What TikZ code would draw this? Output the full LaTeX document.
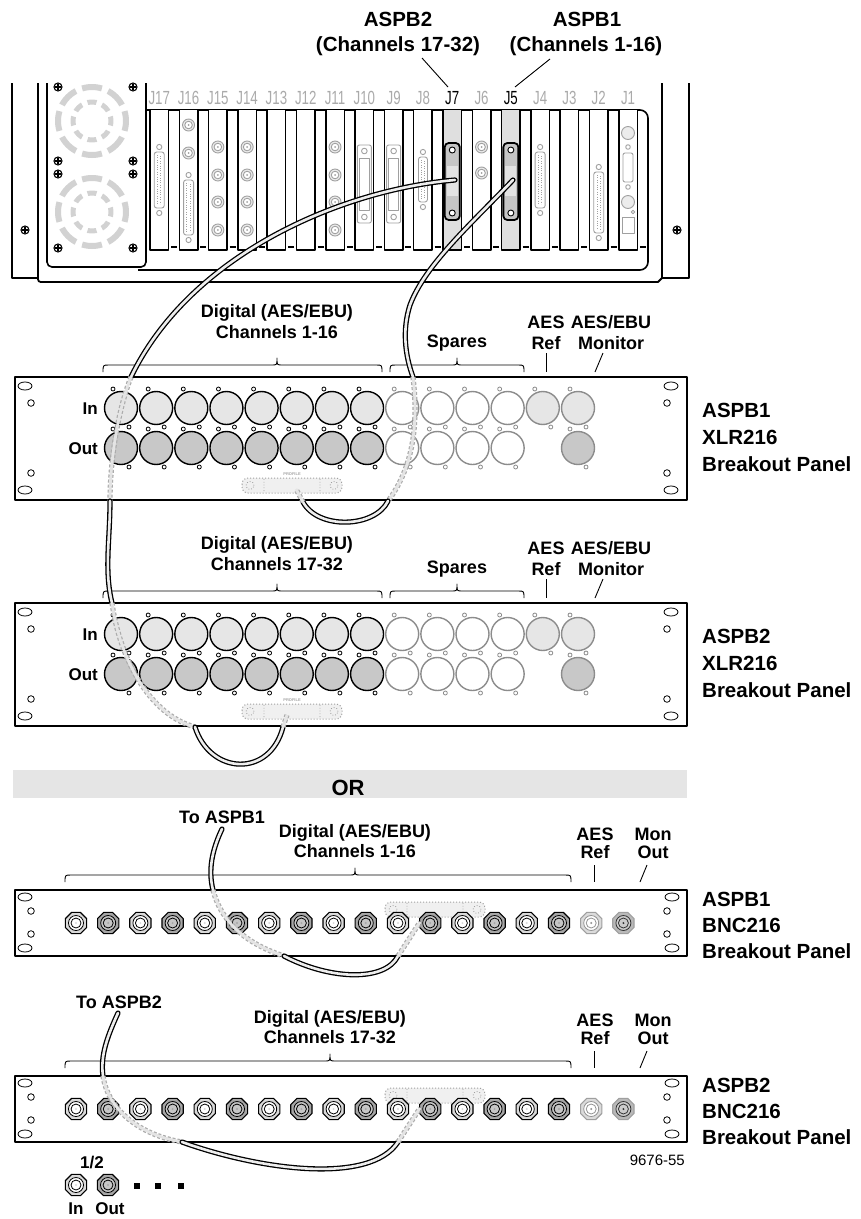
\documentclass[tikz,border=0pt]{standalone}
\usepackage{fontspec}
\setmainfont{Liberation Sans}
\usepackage{graphicx}
\usetikzlibrary{shapes.geometric}
\definecolor{lg}{HTML}{E6E6E6}
\definecolor{mg}{HTML}{C8C8C8}
\definecolor{fang}{HTML}{D2D2D2}
\definecolor{conng}{HTML}{A0A0A0}
\definecolor{jgray}{HTML}{AAAAAA}
\definecolor{band}{HTML}{E5E5E5}
\definecolor{cabin}{HTML}{EEEEEE}
\definecolor{hidin}{HTML}{E4E4E4}
\definecolor{spg}{HTML}{8C8C8C}
\newcommand\mybrace[4]{\draw[leader] (#1,#4+7) .. controls (#1,#4) .. (#1+6,#4) -- (#3-5,#4) .. controls (#3,#4) .. (#3,#4-7) .. controls (#3,#4) .. (#3+5,#4) -- (#2-6,#4) .. controls (#2,#4) .. (#2,#4+7);}
\newcommand\cbnc[2]{\draw[conn, fill=gray!15] (#1,#2) circle[radius=6pt]; \draw[conn] (#1,#2) circle[radius=3.8pt]; \fill[conng] (#1,#2) circle[radius=1pt];}
\newcommand\dsubc[4]{\draw[conn] (#1,#2) circle[radius=2.6pt] (#1,#3) circle[radius=2.6pt];
 \draw[conn, rounded corners=2.5pt] (#1-#4,#2+5) rectangle (#1+#4,#3-5);
 \draw[conng, line width=1pt, dash pattern=on 0.8pt off 1.6pt] (#1-1.6,#2+8) -- (#1-1.6,#3-8) (#1+1.6,#2+9) -- (#1+1.6,#3-9);}
\newcommand\plate[1]{\draw[conn, rounded corners=2pt] (#1-7,145) rectangle (#1+7,223); \draw[conn] (#1,151) circle[radius=2.8pt] (#1,217) circle[radius=2.8pt]; \draw[conn] (#1-5,158) rectangle (#1+5,210);}
\newcommand\jconn[1]{\draw[line width=1.8pt, fill=gray!45, rounded corners=4pt] (#1-7.5,143) rectangle (#1+7.5,220); \fill[gray!22] (#1-5.5,166) rectangle (#1+5.5,196); \draw[line width=0.9pt, fill=white] (#1,150) circle[radius=3pt] (#1,213) circle[radius=3pt];}
\newcommand\profconn[2]{\draw[conng, dotted, line width=1pt, fill=gray!12, rounded corners=6pt] (#1,#2) rectangle (#1+100,#2+15);
 \draw[conng, dotted, line width=0.8pt] (#1+22,#2+1) -- (#1+22,#2+14) (#1+78,#2+1) -- (#1+78,#2+14) (#1+8,#2+7.5) circle[radius=4pt] (#1+92,#2+7.5) circle[radius=4pt];}
\newcommand\screw[2]{\draw[line width=1.1pt, fill=white] (#1,#2) circle[radius=4pt]; \draw[line width=1.1pt] (#1-2.6,#2) -- (#1+2.6,#2) (#1,#2-2.6) -- (#1,#2+2.6);}
\begin{document}
\begin{tikzpicture}[x=1pt,y=-1pt, line join=round,
  t18/.style={font=\fontsize{18}{20}\selectfont\bfseries, inner sep=0pt, anchor=base},
  t17/.style={font=\fontsize{17}{20}\selectfont\bfseries, inner sep=0pt, anchor=base},
  t20/.style={font=\fontsize{20.5}{24}\selectfont\bfseries, inner sep=0pt, anchor=base},
  rt/.style={t20, anchor=base west},
  jlab/.style={font=\fontsize{19}{20}\selectfont, inner sep=0pt},
  leader/.style={line width=0.9pt},
  chas/.style={line width=1.8pt},
  conn/.style={draw=conng, line width=0.9pt, fill=white},
  panel/.style={draw, line width=1.3pt, fill=white},
  hole/.style={draw, line width=0.8pt, fill=white},
  xlr/.style={circle, minimum size=33pt, inner sep=0pt, line width=1.4pt},
  bnc/.style={regular polygon, regular polygon sides=8, minimum size=23pt, inner sep=0pt, line width=1.1pt},
  bin/.style={bnc, draw=black, fill=gray!30, path picture={\draw[line width=0.8pt, fill=white] (path picture bounding box.center) circle[radius=7.5pt] circle[radius=5pt]; \fill (path picture bounding box.center) circle[radius=1.1pt];}},
  bout/.style={bnc, draw=black, fill=gray!70, path picture={\draw[line width=0.8pt, fill=gray!45] (path picture bounding box.center) circle[radius=7.5pt] circle[radius=5pt]; \fill (path picture bounding box.center) circle[radius=1.1pt];}},
  bref/.style={bnc, draw=gray!75, fill=gray!28, path picture={\draw[line width=0.8pt, draw=gray!85, fill=white] (path picture bounding box.center) circle[radius=7.5pt] circle[radius=5pt]; \fill[gray!85] (path picture bounding box.center) circle[radius=1.1pt];}},
  bmon/.style={bnc, draw=gray!75, fill=gray!55, path picture={\draw[line width=0.8pt, draw=black!80, fill=gray!40] (path picture bounding box.center) circle[radius=7.5pt] circle[radius=5pt]; \fill[black!80] (path picture bounding box.center) circle[radius=1.1pt];}},
  cab/.style={line width=2.6pt, draw=cabin, line cap=round, preaction={draw=black, line width=5.2pt, line cap=round}},
  hid/.style={line width=2.8pt, draw=hidin, preaction={draw=gray!65, line width=5.2pt, dash pattern=on 3pt off 2pt}}
]
\useasboundingbox (0,0) rectangle (861,1219);

% ---------------- chassis ----------------
\draw[chas] (12,83) -- (12,278) -- (38,278);
\draw[chas] (38,83) -- (38,276) .. controls (38,282) .. (44,282) -- (658,282) -- (662,278);
\draw[chas] (662,83) -- (662,278) -- (689,278) -- (689,83);
\draw[line width=1.6pt, rounded corners=8pt] (146,110) -- (648,110) -- (648,270) -- (138,270);
\draw[line width=1.6pt, rounded corners=5pt, fill=white] (47,83) -- (47,267) -- (146,267) -- (146,83);
\foreach \cy in {121,212}{
  \draw[fang, line width=6pt, dash pattern=on 20pt off 6.7pt, dash phase=10pt] (92,\cy) circle[radius=34pt];
  \draw[fang, line width=5pt, dash pattern=on 9pt off 5.9pt, dash phase=4.5pt] (92,\cy) circle[radius=19pt];
}
\foreach \sx/\sy in {58/87,133/87,58/161,133/161,58/174,133/174,58/248,133/248,25/230,677/230}{\screw{\sx}{\sy}}

% cards
\foreach \i in {0,...,16}{
  \pgfmathsetmacro\xl{150+29.3*\i}
  \ifnum\i=10 \def\cf{gray!25}\else\ifnum\i=12 \def\cf{gray!25}\else\def\cf{white}\fi\fi
  \draw[line width=1.5pt, fill=\cf] (\xl,110) -- (\xl,250) -- (\xl+18.5,250) -- (\xl+18.5,110);
  \draw[line width=2.2pt] (\xl+21,247) -- (\xl+27,247);
  \pgfmathsetmacro\xc{\xl+9.25}
  \pgfmathtruncatemacro\jn{17-\i}
  \ifnum\jn=7 \def\jc{black}\else\ifnum\jn=5 \def\jc{black}\else\def\jc{jgray}\fi\fi
  \node[jlab, text=\jc] (jl\jn) at (\xc,98) {\scalebox{0.7}[1]{J\jn}};
}
% card connectors
\dsubc{159.25}{147}{213}{5}
\cbnc{188.55}{125}\cbnc{188.55}{153}
\dsubc{188.55}{175}{240}{5}
\foreach \cx in {217.85,247.15,335.05}{\foreach \cy in {147,175,202,230}{\cbnc{\cx}{\cy}}}
\plate{364.35}\plate{393.65}
\dsubc{422.95}{152}{207}{4.5}
\jconn{452.25}
\cbnc{481.55}{147}\cbnc{481.55}{173}
\jconn{510.85}
\dsubc{540.15}{147}{213}{5}
\dsubc{598.75}{167}{238}{5}
\draw[conn, fill=gray!15] (628,133) circle[radius=6.5pt];
\draw[conn] (628,147) circle[radius=2.3pt];
\draw[conn, rounded corners=2pt] (623,153) rectangle (633,182);
\draw[conn] (628,187) circle[radius=2.3pt];
\draw[conn, fill=gray!15] (628,202) circle[radius=6.5pt];
\draw[conn] (633,212) circle[radius=1.8pt];
\draw[conn] (622,217) rectangle (634,233);

% top labels
\node[t20] (a2) at (398,26) {ASPB2};
\node[t20] (c2) at (398,51) {(Channels 17-32)};
\node[t20] (a1) at (587,26) {ASPB1};
\node[t20] (c1) at (586,51) {(Channels 1-16)};
\coordinate (l7a) at (422,58); \coordinate (l7b) at (448,87);
\coordinate (l5a) at (550,59); \coordinate (l5b) at (515,87);
\draw[leader] (l7a) -- (l7b);
\draw[leader] (l5a) -- (l5b);

% ---------------- XLR panels ----------------
\foreach \T/\pn/\chs/\da/\db in {377/1/1-16/317/338, 603/2/17-32/549/570}{
  \draw[panel] (15,\T) rectangle (687,\T+123);
  \draw[hole] (25,\T+9) ellipse[x radius=7pt, y radius=4pt] (31,\T+26) circle[radius=3.3pt] (31,\T+96) circle[radius=3.3pt] (25,\T+113) ellipse[x radius=7pt, y radius=4pt];
  \draw[hole] (671,\T+9) ellipse[x radius=7pt, y radius=4pt] (667,\T+26) circle[radius=3.3pt] (667,\T+96) circle[radius=3.3pt] (671,\T+113) ellipse[x radius=7pt, y radius=4pt];
  \foreach \i in {0,...,7}{
    \pgfmathsetmacro\x{121+35.15*\i}
    \node[xlr, draw=black, fill=lg] (xi\pn-\i) at (\x,\T+31) {};
    \node[xlr, draw=black, fill=mg] (xo\pn-\i) at (\x,\T+71) {};
    \draw[hole] (\x-8,\T+12) circle[radius=2pt] (\x+8,\T+50) circle[radius=2pt] (\x-8,\T+52) circle[radius=2pt] (\x+8,\T+90) circle[radius=2pt];
  }
  \foreach \i in {8,...,11}{
    \pgfmathsetmacro\x{121+35.15*\i}
    \node[xlr, draw=spg, fill=white] (xi\pn-\i) at (\x,\T+31) {};
    \node[xlr, draw=spg, fill=white] (xo\pn-\i) at (\x,\T+71) {};
    \draw[hole, draw=spg] (\x-8,\T+12) circle[radius=2pt] (\x+8,\T+50) circle[radius=2pt] (\x-8,\T+52) circle[radius=2pt] (\x+8,\T+90) circle[radius=2pt];
  }
  \node[xlr, draw=spg, fill=lg] (xi\pn-12) at (542.8,\T+31) {};
  \draw[hole, draw=spg] (534.8,\T+12) circle[radius=2pt] (550.8,\T+50) circle[radius=2pt];
  \node[xlr, draw=spg, fill=lg] (xi\pn-13) at (578,\T+31) {};
  \node[xlr, draw=spg, fill=mg] (xo\pn-13) at (578,\T+71) {};
  \draw[hole, draw=spg] (570,\T+12) circle[radius=2pt] (586,\T+50) circle[radius=2pt] (570,\T+52) circle[radius=2pt] (586,\T+90) circle[radius=2pt];
  \node[t17, anchor=base east] (in\pn) at (98,\T+37) {In};
  \node[t17, anchor=base east] (out\pn) at (98,\T+77) {Out};
  \profconn{242}{\T+101}
  \node[font=\fontsize{4}{4}\selectfont\bfseries, text=gray!70, inner sep=0pt] (prof\pn) at (292,\T+97) {PROFILE};
  \mybrace{103}{382}{277}{\T-12}
  \mybrace{390}{524}{457}{\T-12}
  \node[t18] (dig\pn) at (277,\da) {Digital (AES/EBU)};
  \node[t18] (ch\pn) at (277,\db) {Channels \chs};
  \node[t18] (sp\pn) at (457,\T-30) {Spares};
  \node[t18] (aes\pn) at (546,\T-49) {AES};
  \node[t18] (ref\pn) at (546,\T-28) {Ref};
  \node[t18] (ae\pn) at (611,\T-49) {AES/EBU};
  \node[t18] (mon\pn) at (611,\T-28) {Monitor};
  \coordinate (ra\pn) at (546,\T-24); \coordinate (rb\pn) at (546,\T-5);
  \coordinate (ma\pn) at (603,\T-24); \coordinate (mb\pn) at (595,\T-5);
  \draw[leader] (ra\pn) -- (rb\pn);
  \draw[leader] (ma\pn) -- (mb\pn);
  \node[rt] (pa\pn) at (702,\T+40) {ASPB\pn};
  \node[rt] (pb\pn) at (702,\T+67) {XLR216};
  \node[rt] (pc\pn) at (702,\T+94) {Breakout Panel};
}

% ---------------- OR ----------------
\fill[band] (13,770) rectangle (687,798);
\node[font=\fontsize{22}{24}\selectfont\bfseries, inner sep=0pt, anchor=base] (or) at (348,795) {OR};

% ---------------- BNC panels ----------------
\foreach \T/\pn/\tip/\chs/\da/\db in {890/1/355/1-16/837/857, 1076/2/330/17-32/1023/1043}{
  \draw[panel] (15,\T) rectangle (687,\T+66);
  \draw[hole] (25,\T+7) ellipse[x radius=7pt, y radius=4pt] (31,\T+21) circle[radius=3.3pt] (31,\T+44) circle[radius=3.3pt] (25,\T+58) ellipse[x radius=7pt, y radius=4pt];
  \draw[hole] (672,\T+7) ellipse[x radius=7pt, y radius=4pt] (667,\T+21) circle[radius=3.3pt] (667,\T+44) circle[radius=3.3pt] (672,\T+58) ellipse[x radius=7pt, y radius=4pt];
  \profconn{385}{\T+12}
  \foreach \i in {0,...,17}{
    \pgfmathsetmacro\x{76+32.2*\i}
    \ifnum\i=16 \def\bt{bref}\else\ifnum\i=17 \def\bt{bmon}\else\ifodd\i \def\bt{bout}\else\def\bt{bin}\fi\fi\fi
    \node[\bt] (b\pn-\i) at (\x,\T+33) {};
  }
  \mybrace{65}{571}{\tip}{\T-15}
  \node[t18] (bdig\pn) at (\tip,\da) {Digital (AES/EBU)};
  \node[t18] (bch\pn) at (\tip,\db) {Channels \chs};
  \node[t18] (baes\pn) at (595,\T-50) {AES};
  \node[t18] (bref\pn) at (595,\T-32) {Ref};
  \node[t18] (bmon\pn) at (653,\T-50) {Mon};
  \node[t18] (bout\pn) at (653,\T-32) {Out};
  \coordinate (bra\pn) at (594,\T-25); \coordinate (brb\pn) at (594,\T-8);
  \coordinate (bma\pn) at (647,\T-25); \coordinate (bmb\pn) at (640,\T-8);
  \draw[leader] (bra\pn) -- (brb\pn);
  \draw[leader] (bma\pn) -- (bmb\pn);
  \node[rt] (bpa\pn) at (702,\T+16) {ASPB\pn};
  \node[rt] (bpb\pn) at (702,\T+42) {BNC216};
  \node[rt] (bpc\pn) at (702,\T+68) {Breakout Panel};
}
\node[t18] (to1) at (222,823) {To ASPB1};
\node[t18] (to2) at (119,1008) {To ASPB2};
\node[font=\fontsize{15}{17}\selectfont, anchor=base east, inner sep=0pt] (fig) at (685,1165) {9676-55};

% legend
\node[t17] (half) at (92,1168) {1/2};
\node[bin] (lin) at (76,1185) {};
\node[bout] (lout) at (108,1185) {};
\foreach \dx in {137,158,181}{\fill (\dx-2.6,1183.4) rectangle (\dx+2.6,1188.6);}
\node[t17] (lin2) at (76,1214) {In};
\node[t17] (lout2) at (110,1214) {Out};

% ---------------- cables ----------------
\coordinate (j7c) at (455,180);
\coordinate (j5c) at (513,180);
% ASPB1 XLR (from J5)
\coordinate (p1a) at (413,377); \coordinate (p1b) at (388,501); \coordinate (p1c) at (303,502); \coordinate (p1d) at (296,489);
\draw[cab] (j5c) .. controls (470,225) and (425,265) .. (410,305) .. controls (402,330) and (405,355) .. (p1a);
\draw[hid] (p1a) .. controls (418,420) and (415,465) .. (p1b);
\draw[cab] (p1b) .. controls (375,528) and (318,530) .. (p1c);
\draw[hid] (p1c) -- (p1d);
% ASPB2 XLR (from J7)
\coordinate (p2a) at (131,377); \coordinate (p2b) at (110,501); \coordinate (p2c) at (112,603);
\coordinate (p2d) at (195,727); \coordinate (p2e) at (283,727); \coordinate (p2f) at (287,715);
\draw[cab] (j7c) .. controls (340,190) and (190,255) .. (p2a);
\draw[hid] (p2a) .. controls (118,410) and (110,460) .. (p2b);
\draw[cab] (p2b) .. controls (110,540) and (104,570) .. (p2c);
\draw[hid] (p2c) .. controls (120,660) and (150,715) .. (p2d);
\draw[cab] (p2d) .. controls (210,775) and (270,778) .. (p2e);
\draw[hid] (p2e) -- (p2f);
% BNC ASPB1
\coordinate (q1a) at (222,829); \coordinate (q1b) at (213,890); \coordinate (q1c) at (284,956); \coordinate (q1d) at (398,956); \coordinate (q1e) at (420,922);
\draw[cab] (q1a) .. controls (212,850) and (208,870) .. (q1b);
\draw[hid] (q1b) .. controls (222,925) and (250,945) .. (q1c);
\draw[cab] (q1c) .. controls (330,980) and (385,982) .. (q1d);
\draw[hid] (q1d) -- (q1e);
% BNC ASPB2
\coordinate (q2a) at (118,1013); \coordinate (q2b) at (103,1076); \coordinate (q2c) at (182,1142); \coordinate (q2d) at (398,1142); \coordinate (q2e) at (420,1108);
\draw[cab] (q2a) .. controls (108,1035) and (100,1055) .. (q2b);
\draw[hid] (q2b) .. controls (108,1110) and (140,1135) .. (q2c);
\draw[cab] (q2c) .. controls (260,1170) and (370,1185) .. (q2d);
\draw[hid] (q2d) -- (q2e);
\end{tikzpicture}
\end{document}
